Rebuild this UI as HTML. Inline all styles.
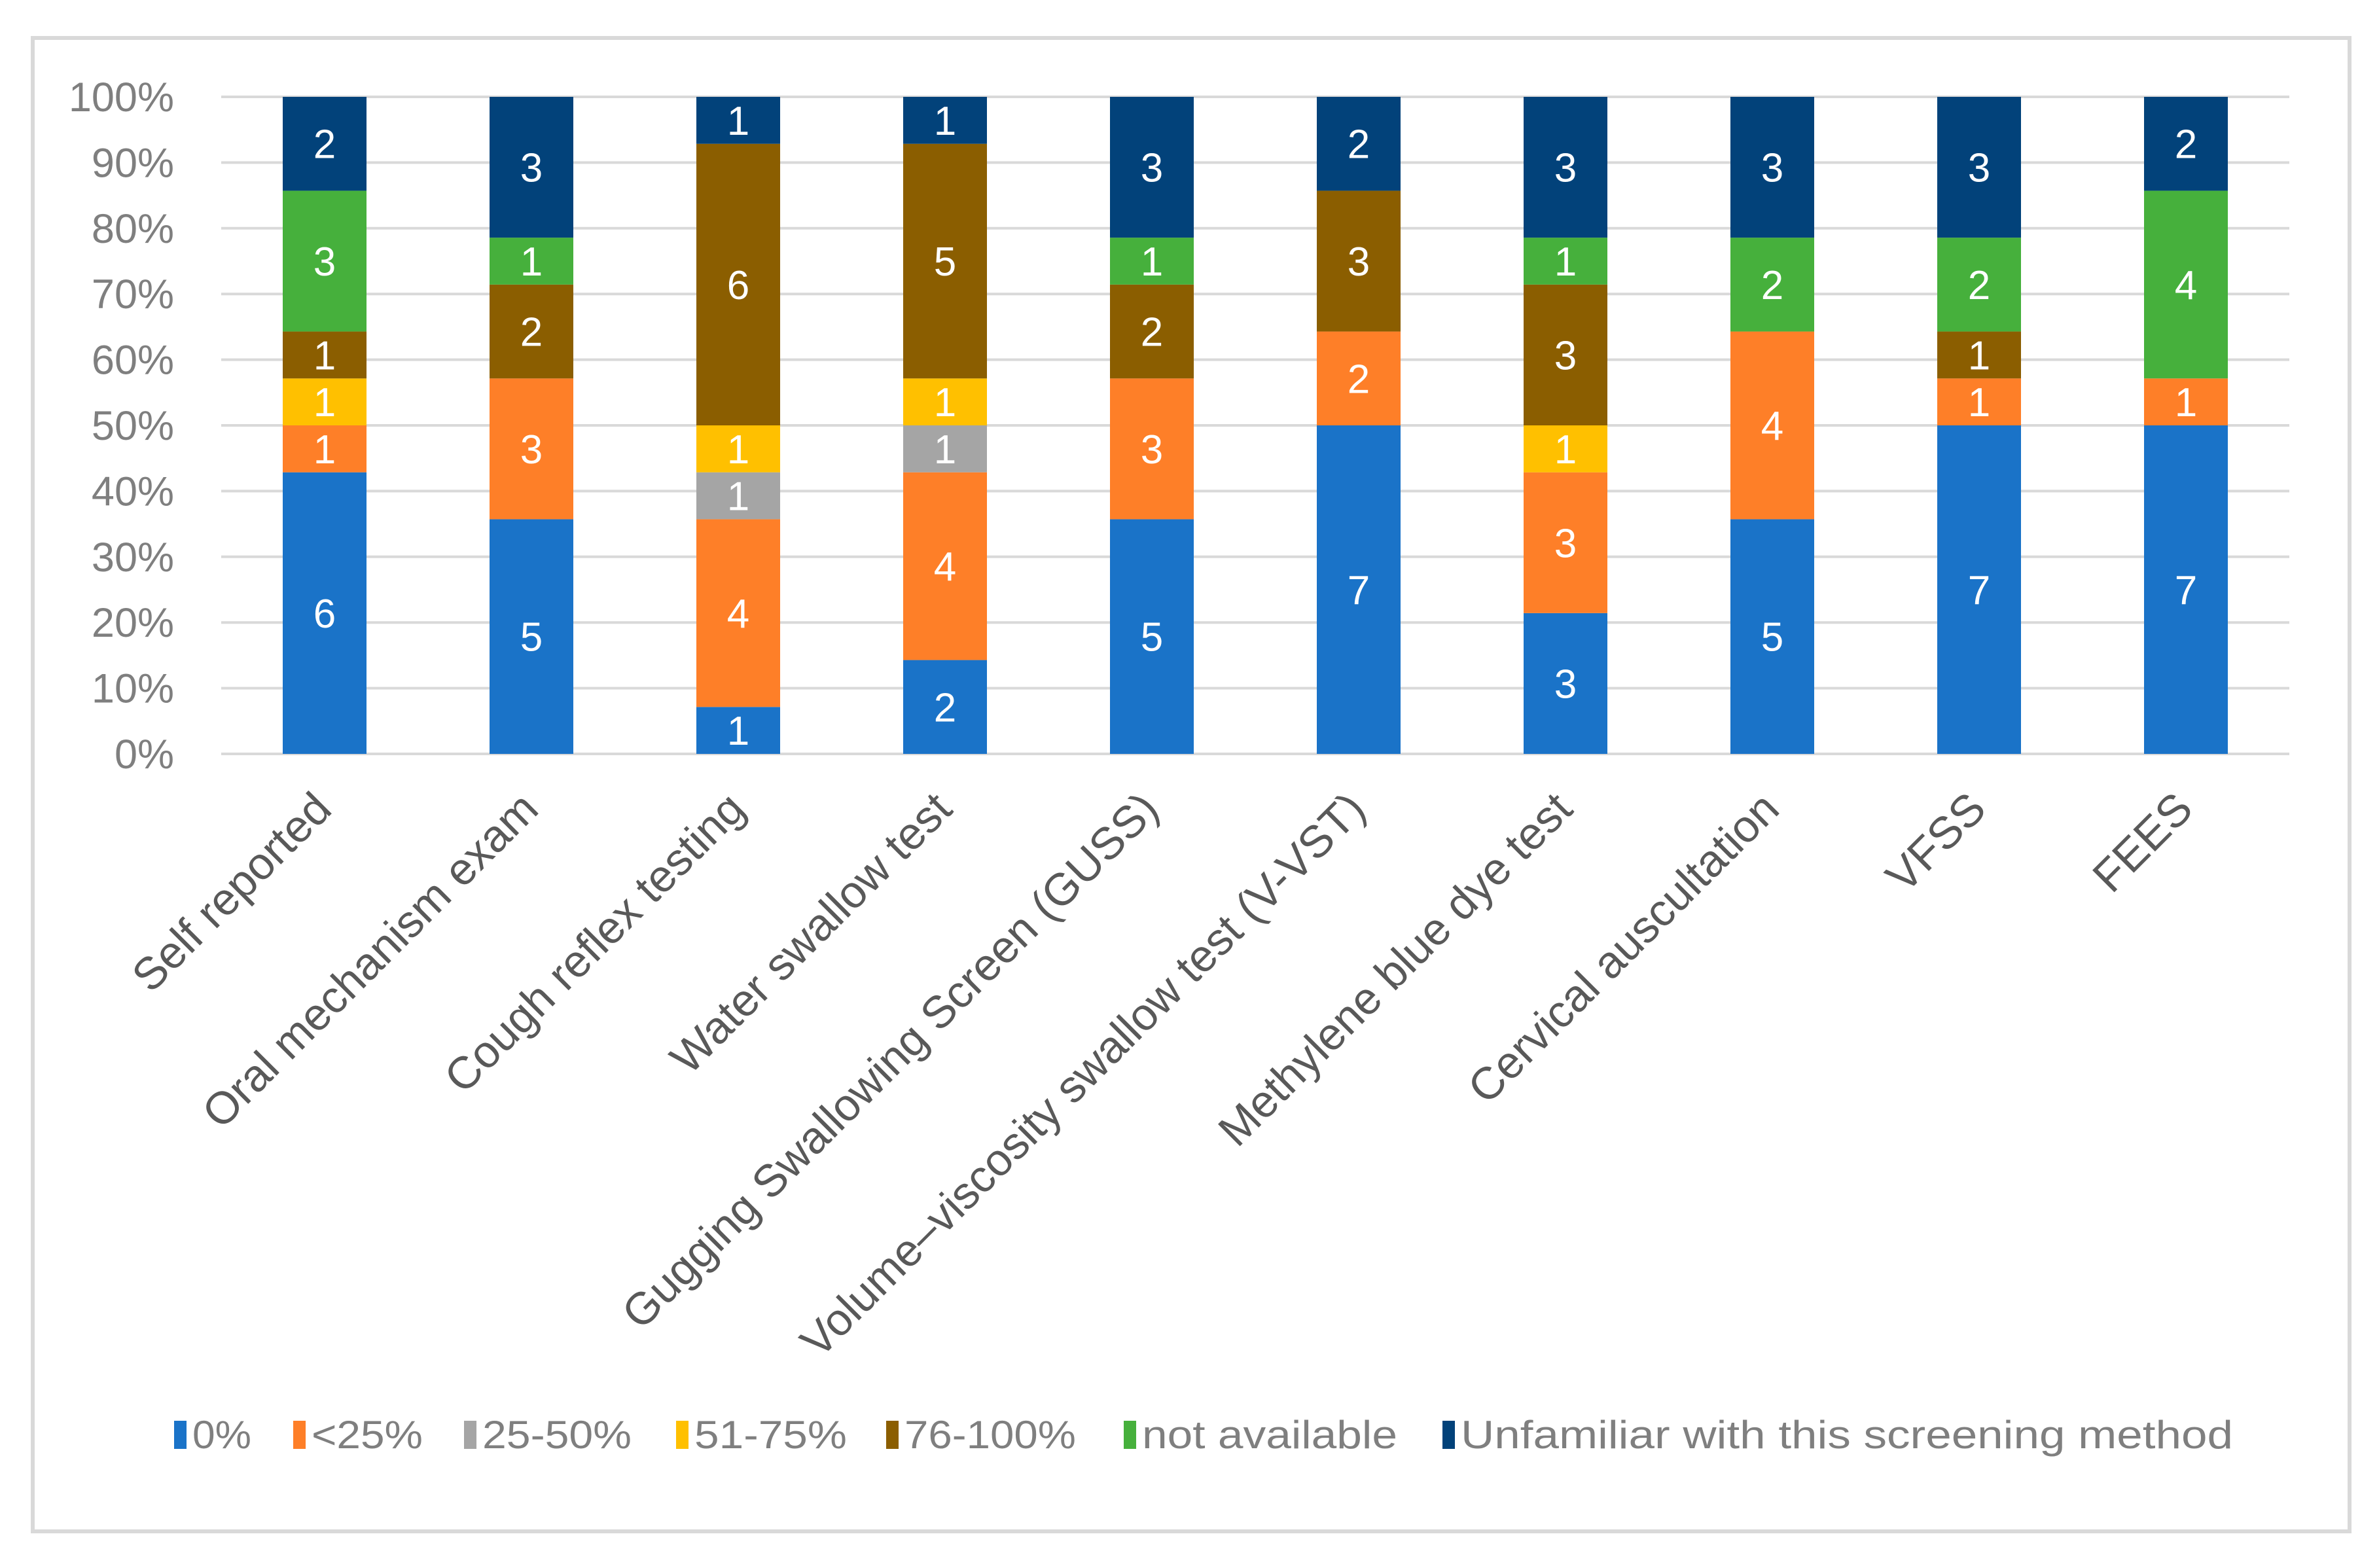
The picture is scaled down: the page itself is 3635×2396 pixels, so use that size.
<!DOCTYPE html>
<html><head><meta charset="utf-8"><style>
html,body{margin:0;padding:0;background:#fff;}
svg{display:block;font-family:"Liberation Sans",sans-serif;}
</style></head><body>
<svg id="chart" width="3635" height="2396" viewBox="0 0 3635 2396">
<rect x="50" y="58" width="3540" height="2282" fill="#fff" stroke="#d9d9d9" stroke-width="6"/>
<g id="grid"></g><g id="bars"></g><g id="yticks"></g><g id="xlabels"></g><g id="legend"></g>
</svg>
<script>
const categories = ["Self reported","Oral mechanism exam","Cough reflex testing","Water swallow test","Gugging Swallowing Screen (GUSS)","Volume\u2013viscosity swallow test (V-VST)","Methylene blue dye test","Cervical auscultation","VFSS","FEES"];
const seriesNames = ["0%","<25%","25-50%","51-75%","76-100%","not available","Unfamiliar with this screening method"];
const s0 = [6,5,1,2,5,7,3,5,7,7];
const s1 = [1,3,4,4,3,2,3,4,1,1];
const s2 = [0,0,1,1,0,0,0,0,0,0];
const s3 = [1,0,1,1,0,0,1,0,0,0];
const s4 = [1,2,6,5,2,3,3,0,1,0];
const s5 = [3,1,0,0,1,0,1,2,2,4];
const s6 = [2,3,1,1,3,2,3,3,3,2];
const yTicks = [0,10,20,30,40,50,60,70,80,90,100];
const colors = ["#1a73c8","#fe7f28","#a5a5a5","#ffc000","#8b5e00","#46b03c","#02427a"];
const series = [s0,s1,s2,s3,s4,s5,s6];
const NS="http://www.w3.org/2000/svg";
const L=338,R=3498,T=148,B=1152;
const band=(R-L)/categories.length, bw=128;
const x=i=>L+band*(i+0.5);
const y=p=>B-(B-T)*p/100;
function mk(tag,attrs,parent){const e=document.createElementNS(NS,tag);for(const k in attrs)e.setAttribute(k,attrs[k]);parent.appendChild(e);return e;}
const grid=document.getElementById('grid'),bars=document.getElementById('bars'),yt=document.getElementById('yticks'),xl=document.getElementById('xlabels'),lg=document.getElementById('legend');
yTicks.forEach(t=>{
  const ln=mk('line',{x1:L,x2:R,y1:y(t),y2:y(t),stroke:'#d9d9d9','stroke-width':4},grid);
  
  
  const tx=mk('text',{x:266,y:y(t)+22,'text-anchor':'end','font-size':63,fill:'#7f7f7f'},yt);
  tx.textContent=t+'%';
  
  
});
categories.forEach((c,i)=>{
  let total=0;series.forEach(s=>total+=s[i]);
  let cum=0;
  series.forEach((s,k)=>{
    const v=s[i]; if(!v)return;
    const p0=cum/total*100,p1=(cum+v)/total*100; cum+=v;
    const r=mk('rect',{x:x(i)-bw/2,y:y(p1),width:bw,height:y(p0)-y(p1),fill:colors[k]},bars);
    
    
    const t=mk('text',{x:x(i),y:(y(p0)+y(p1))/2+22,'text-anchor':'middle','font-size':62,fill:'#fff'},bars);
    t.textContent=v;
    
    
  });
  const ax=x(i)+14, ay=1240;
  const t=mk('text',{x:ax,y:ay,'text-anchor':'end','font-size':69,fill:'#595959',transform:`rotate(-45 ${ax} ${ay})`},xl);
  t.textContent=c;
  
  
});
const lgX=[266,448,709,1033,1354,1717,2204];
const lgW=[90,170,228,233,262,390,1180];
seriesNames.forEach((n,k)=>{
  const g=mk('g',{},lg);
  
  
  mk('rect',{x:lgX[k],y:2171,width:19,height:43,fill:colors[k]},g);
  const t=mk('text',{x:lgX[k]+28,y:2213,'font-size':60,fill:'#7f7f7f',textLength:lgW[k],lengthAdjust:'spacingAndGlyphs'},g);
  t.textContent=n;
});
</script>
</body></html>
